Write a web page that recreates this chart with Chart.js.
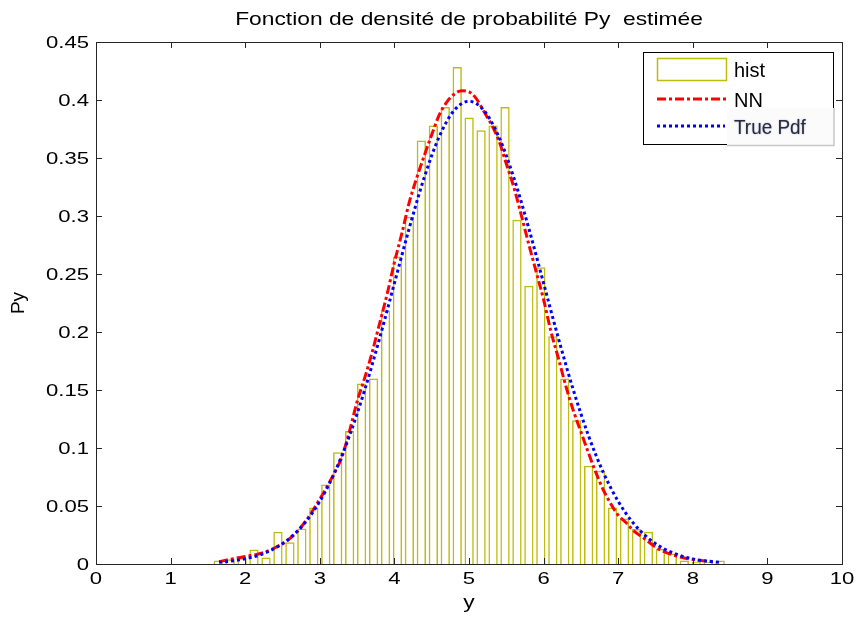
<!DOCTYPE html>
<html>
<head>
<meta charset="utf-8">
<title>Fonction de densité de probabilité Py estimée</title>
<script src="https://cdn.jsdelivr.net/npm/chart.js@4.4.1/dist/chart.umd.min.js"></script>
<style>
  html, body { margin: 0; padding: 0; background: #fff; }
  #wrap { width: 857px; height: 621px; position: relative; }
</style>
</head>
<body>
<div id="wrap"><canvas id="pdfChart"></canvas></div>
<script>
// DATA - histogram bins (centres) and heights
const binCenters = [1.638, 1.798, 1.958, 2.118, 2.279, 2.439, 2.599, 2.759, 2.920, 3.080,
  3.240, 3.400, 3.560, 3.721, 3.881, 4.041, 4.201, 4.361, 4.522, 4.682,
  4.842, 5.002, 5.162, 5.323, 5.483, 5.643, 5.803, 5.963, 6.124, 6.284,
  6.444, 6.604, 6.764, 6.925, 7.085, 7.245, 7.405, 7.565, 7.726, 7.886,
  8.046, 8.206, 8.366];
const histValues = [0.003, 0.004, 0.005, 0.0125, 0.0055, 0.0278, 0.0187, 0.0307, 0.0488, 0.0686,
  0.0964, 0.1147, 0.1555, 0.160, 0.2186, 0.265, 0.2994, 0.3651, 0.378, 0.394,
  0.4285, 0.385, 0.374, 0.378, 0.394, 0.2967, 0.2399, 0.2558, 0.1964, 0.1599,
  0.1239, 0.0846, 0.0803, 0.0488, 0.0393, 0.0301, 0.0278, 0.013, 0.009, 0.003,
  0.002, 0.002, 0.003];

// NN estimate (red dash-dot)
const nnX = [1.65, 1.8, 2.0, 2.2, 2.4, 2.6, 2.8, 3.0, 3.1, 3.2, 3.3, 3.4, 3.5, 3.6, 3.7, 3.8, 3.9,
  4.0, 4.1, 4.2, 4.3, 4.4, 4.5, 4.6, 4.7, 4.8, 4.9, 5.0, 5.1, 5.2, 5.3, 5.4, 5.5, 5.6, 5.7,
  5.8, 5.9, 6.0, 6.1, 6.2, 6.3, 6.4, 6.5, 6.6, 6.7, 6.8, 6.9, 7.0, 7.1, 7.2, 7.35, 7.5, 7.7,
  7.9, 8.1, 8.3];
const nnY = [0.002, 0.004, 0.0065, 0.009, 0.014, 0.022, 0.036, 0.056, 0.067, 0.079, 0.093, 0.115,
  0.14, 0.160, 0.182, 0.207, 0.232, 0.260, 0.285, 0.312, 0.333, 0.352, 0.370, 0.387, 0.398,
  0.405, 0.408, 0.407, 0.401, 0.390, 0.379, 0.365, 0.345, 0.325, 0.301, 0.276, 0.252, 0.228,
  0.200, 0.177, 0.153, 0.132, 0.114, 0.096, 0.079, 0.064, 0.052, 0.042, 0.036, 0.029, 0.022,
  0.0145, 0.0085, 0.005, 0.003, 0.002];

// True pdf (blue dotted)
const trueX = [1.65, 1.8, 2.0, 2.2, 2.4, 2.6, 2.8, 3.0, 3.2, 3.4, 3.6, 3.8, 4.0, 4.2, 4.4, 4.6,
  4.8, 5.0, 5.2, 5.4, 5.6, 5.8, 6.0, 6.2, 6.4, 6.6, 6.8, 7.0, 7.2, 7.4, 7.6, 7.8, 8.0, 8.2, 8.35];
const trueY = [0.0015, 0.0024, 0.0044, 0.0079, 0.0136, 0.0224, 0.0355, 0.054, 0.079, 0.1109,
  0.1497, 0.1942, 0.242, 0.2897, 0.3332, 0.3683, 0.391, 0.3989, 0.391, 0.3683, 0.3332, 0.2897,
  0.242, 0.1942, 0.1497, 0.1109, 0.079, 0.054, 0.0355, 0.0224, 0.0136, 0.0079, 0.0044, 0.0024,
  0.0015];

// Axis ticks
const xTicks = [0, 1, 2, 3, 4, 5, 6, 7, 8, 9, 10];
const xTickLabels = ['0', '1', '2', '3', '4', '5', '6', '7', '8', '9', '10'];
const yTicks = [0, 0.05, 0.1, 0.15, 0.2, 0.25, 0.3, 0.35, 0.4, 0.45];
const yTickLabels = ['0', '0.05', '0.1', '0.15', '0.2', '0.25', '0.3', '0.35', '0.4', '0.45'];

const FONT = '"Liberation Sans", Arial, sans-serif';

// draws text squeezed/stretched horizontally (the reference is stretched)
function stretchText(ctx, text, x, y, sx) {
  ctx.save();
  ctx.translate(x, y);
  ctx.scale(sx, 1);
  ctx.fillText(text, 0, 0);
  ctx.restore();
}

// MATLAB style box, inward ticks, labels, title and legend
const matlabAxes = {
  id: 'matlabAxes',
  afterDraw(chart) {
    const { ctx, chartArea: a, scales: { x, y } } = chart;
    ctx.save();
    ctx.strokeStyle = '#262626';
    ctx.lineWidth = 1;
    ctx.strokeRect(a.left + 0.5, a.top + 0.5, a.right - a.left, a.bottom - a.top);

    ctx.beginPath();
    xTicks.forEach(v => {
      const px = Math.round(x.getPixelForValue(v)) + 0.5;
      ctx.moveTo(px, a.bottom); ctx.lineTo(px, a.bottom - 6);
      ctx.moveTo(px, a.top); ctx.lineTo(px, a.top + 6);
    });
    yTicks.forEach(v => {
      const py = Math.round(y.getPixelForValue(v)) + 0.5;
      ctx.moveTo(a.left, py); ctx.lineTo(a.left + 6, py);
      ctx.moveTo(a.right, py); ctx.lineTo(a.right - 6, py);
    });
    ctx.stroke();

    // tick labels
    ctx.fillStyle = '#000';
    ctx.font = '17px ' + FONT;
    ctx.textBaseline = 'middle';
    ctx.textAlign = 'center';
    xTicks.forEach((v, i) => stretchText(ctx, xTickLabels[i], x.getPixelForValue(v), a.bottom + 15, 1.3));
    ctx.textAlign = 'right';
    yTicks.forEach((v, i) => stretchText(ctx, yTickLabels[i], a.left - 7, y.getPixelForValue(v) + 1, 1.3));

    // title and axis titles
    ctx.textBaseline = 'alphabetic';
    ctx.textAlign = 'center';
    ctx.font = '19px ' + FONT;
    stretchText(ctx, 'Fonction de densité de probabilité Py  estimée', (a.left + a.right) / 2, 25, 1.2);
    ctx.font = '19px ' + FONT;
    stretchText(ctx, 'y', (a.left + a.right) / 2, 608, 1.2);
    ctx.save();
    ctx.translate(24, (a.top + a.bottom) / 2);
    ctx.rotate(-Math.PI / 2);
    ctx.fillText('Py', 0, 0);
    ctx.restore();

    // legend
    const ds = chart.data.datasets;
    ctx.fillStyle = '#fff';
    ctx.fillRect(643, 52, 190, 92);
    ctx.strokeStyle = '#000';
    ctx.strokeRect(643.5, 52.5, 190, 92);
    ctx.font = '20px ' + FONT;
    ctx.textAlign = 'left';
    ctx.fillStyle = '#000';

    ctx.strokeStyle = ds[0].borderColor;
    ctx.lineWidth = 1.5;
    ctx.strokeRect(657.5, 58.5, 69, 22);
    ctx.fillText(ds[0].label, 734, 77);

    ctx.strokeStyle = ds[1].borderColor;
    ctx.lineWidth = ds[1].borderWidth;
    ctx.setLineDash(ds[1].borderDash);
    ctx.beginPath(); ctx.moveTo(657, 99); ctx.lineTo(727, 99); ctx.stroke();
    ctx.fillText(ds[1].label, 734, 107);

    ctx.strokeStyle = ds[2].borderColor;
    ctx.lineWidth = ds[2].borderWidth;
    ctx.setLineDash(ds[2].borderDash);
    ctx.beginPath(); ctx.moveTo(657, 126); ctx.lineTo(725, 126); ctx.stroke();
    ctx.setLineDash([]);

    // the pasted "True Pdf" label box
    ctx.fillStyle = '#fbfbfb';
    ctx.fillRect(727, 108, 107, 37);
    ctx.strokeStyle = '#c8c8c8';
    ctx.lineWidth = 1.5;
    ctx.beginPath();
    ctx.moveTo(834, 108); ctx.lineTo(834, 145.5); ctx.lineTo(727, 145.5);
    ctx.stroke();
    ctx.fillStyle = '#2a2a38';
    ctx.font = '21px ' + FONT;
    ctx.shadowColor = 'rgba(40,60,160,0.5)';
    ctx.shadowBlur = 1.5;
    stretchText(ctx, ds[2].label, 734, 134, 0.9);
    ctx.restore();
  }
};

const pdfCtx = document.getElementById('pdfChart').getContext('2d');
const pdfChart = new Chart(pdfCtx, {
  type: 'bar',
  data: {
    datasets: [{
      type: 'bar',
      label: 'hist',
      data: binCenters.map((c, i) => ({ x: c, y: histValues[i] })),
      backgroundColor: 'rgba(0,0,0,0)',
      borderColor: '#bfbc10',
      borderWidth: 1.5,
      barPercentage: 0.78,
      categoryPercentage: 1,
      order: 3
    }, {
      type: 'line',
      label: 'NN',
      data: nnX.map((v, i) => ({ x: v, y: nnY[i] })),
      borderColor: '#ff0000',
      borderWidth: 3,
      borderDash: [9, 3, 3, 3],
      pointRadius: 0,
      cubicInterpolationMode: 'monotone',
      fill: false,
      order: 2
    }, {
      type: 'line',
      label: 'True Pdf',
      data: trueX.map((v, i) => ({ x: v, y: trueY[i] })),
      borderColor: '#0000ff',
      borderWidth: 3,
      borderDash: [3, 3],
      pointRadius: 0,
      cubicInterpolationMode: 'monotone',
      fill: false,
      order: 1
    }]
  },
  options: {
    responsive: true,
    maintainAspectRatio: false,
    animation: false,
    layout: { padding: { top: 42, right: 15, left: 0, bottom: 0 } },
    plugins: {
      legend: { display: false },
      title: { display: false },
      tooltip: { enabled: false }
    },
    scales: {
      x: {
        type: 'linear',
        min: 0,
        max: 10,
        offset: false,
        grid: { display: false },
        border: { display: false },
        ticks: { display: false },
        afterBuildTicks(scale) { scale.ticks = xTicks.map(v => ({ value: v })); },
        afterFit(scale) { scale.height = 57; }
      },
      y: {
        min: 0,
        max: 0.45,
        grid: { display: false },
        border: { display: false },
        ticks: { display: false },
        afterBuildTicks(scale) { scale.ticks = yTicks.map(v => ({ value: v })); },
        afterFit(scale) { scale.width = 96; }
      }
    }
  },
  plugins: [matlabAxes]
});
</script>
</body>
</html>
